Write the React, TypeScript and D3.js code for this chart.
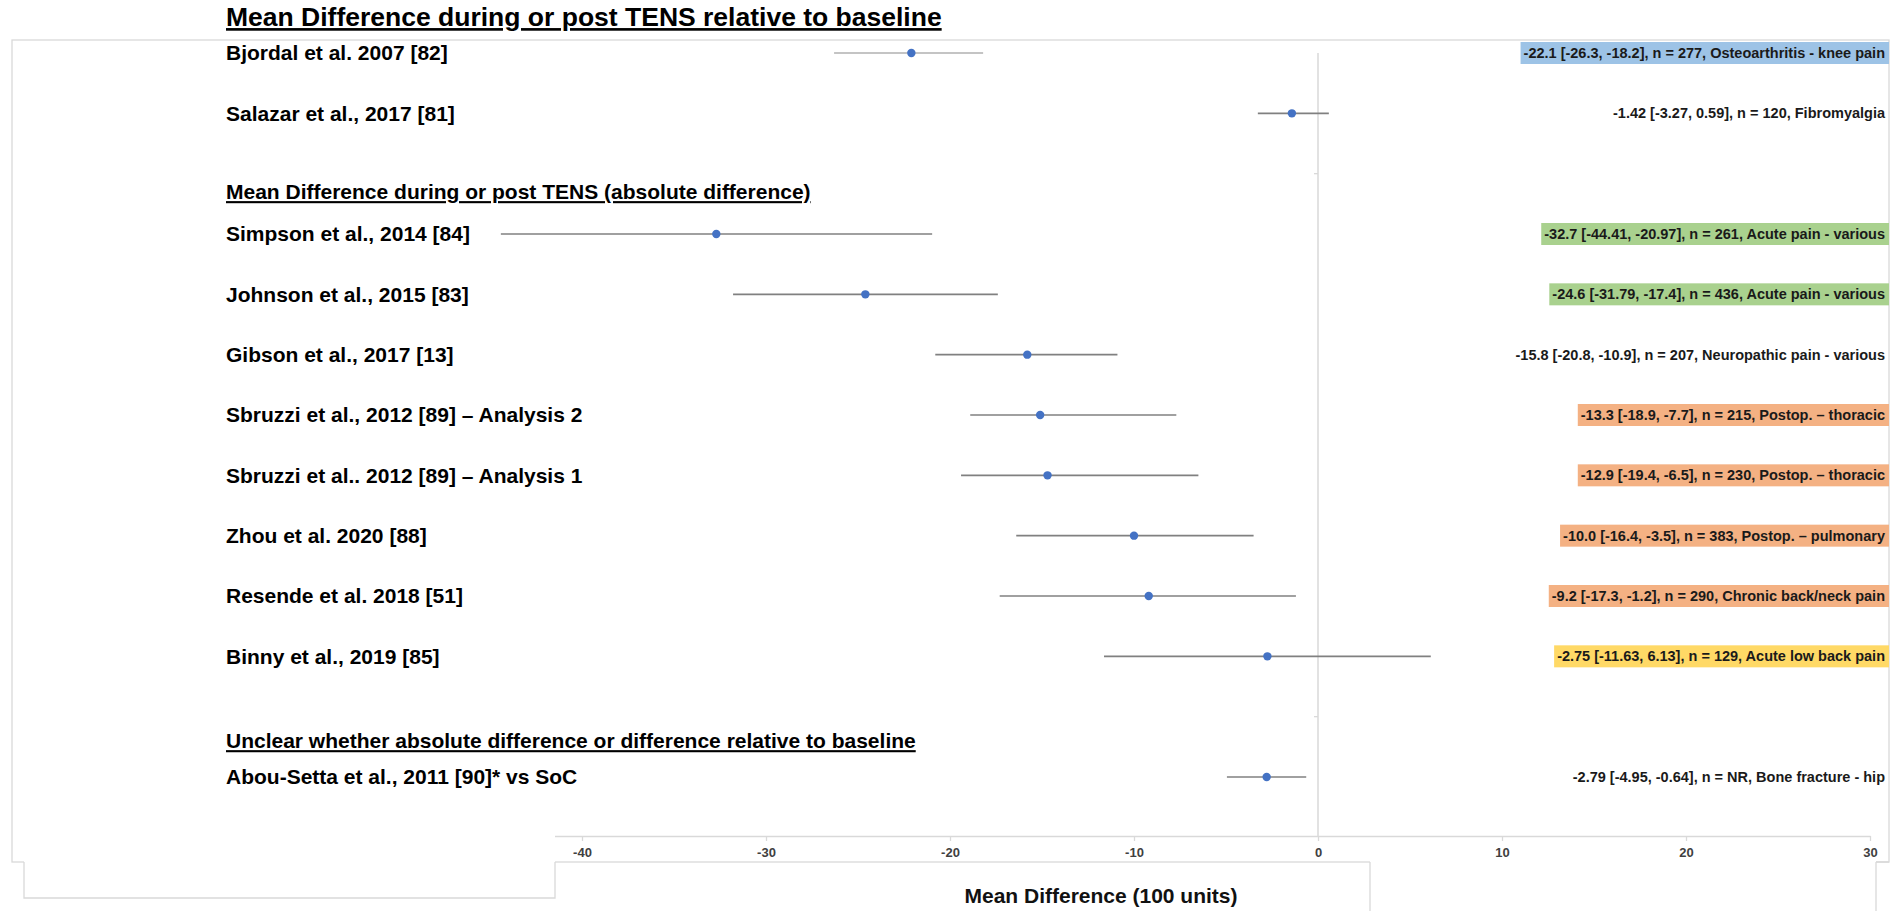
import React, { useEffect, useRef } from "react";
import * as d3 from "d3";

// ---------- data ----------
const studyLabels = [
  "Bjordal et al. 2007 [82]",
  "Salazar et al., 2017 [81]",
  "Simpson et al., 2014 [84]",
  "Johnson et al., 2015 [83]",
  "Gibson et al., 2017 [13]",
  "Sbruzzi et al., 2012 [89] – Analysis 2",
  "Sbruzzi et al.. 2012  [89] – Analysis 1",
  "Zhou et al. 2020 [88]",
  "Resende et al. 2018 [51]",
  "Binny et al., 2019 [85]",
  "Abou-Setta et al., 2011 [90]* vs SoC",
];
const studyRows = [0, 1, 3, 4, 5, 6, 7, 8, 9, 10, 12];
const meanDiff = [-22.1, -1.42, -32.7, -24.6, -15.8, -15.1, -14.7, -10.0, -9.2, -2.75, -2.79];
const ciLower = [-26.3, -3.27, -44.41, -31.79, -20.8, -18.9, -19.4, -16.4, -17.3, -11.63, -4.95];
const ciUpper = [-18.2, 0.59, -20.97, -17.4, -10.9, -7.7, -6.5, -3.5, -1.2, 6.13, -0.64];
const summaryText = [
  "-22.1 [-26.3, -18.2], n = 277, Osteoarthritis  - knee pain",
  "-1.42 [-3.27, 0.59], n = 120, Fibromyalgia",
  "-32.7 [-44.41, -20.97], n = 261, Acute pain - various",
  "-24.6 [-31.79, -17.4], n = 436, Acute pain - various",
  "-15.8 [-20.8, -10.9], n = 207, Neuropathic pain - various",
  "-13.3 [-18.9, -7.7], n = 215, Postop. – thoracic",
  "-12.9 [-19.4, -6.5], n = 230, Postop. – thoracic",
  "-10.0 [-16.4, -3.5], n = 383, Postop. – pulmonary",
  "-9.2 [-17.3, -1.2], n = 290, Chronic back/neck pain",
  "-2.75 [-11.63, 6.13], n = 129, Acute low back pain",
  "-2.79 [-4.95, -0.64], n = NR, Bone fracture - hip",
];
const painGroup = ["knee", "none", "acute", "acute", "none", "postop", "postop", "postop", "postop", "lowback", "none"];
const sectionHeaders = [
  "Mean Difference during or post TENS relative to baseline",
  "Mean Difference during or post TENS (absolute difference)",
  "Unclear whether absolute difference or difference relative to baseline",
];
const sectionRows = [-0.6, 2.3, 11.4];
const xTicks = [-50, -40, -30, -20, -10, 0, 10, 20, 30];
const categoryTickRows = [2, 11];
const xAxisTitle = "Mean Difference (100 units)";

// ---------- styles ----------
const groupColor: Record<string, string> = {
  knee: "#9dc3e6",
  acute: "#a9d18e",
  postop: "#f4b183",
  lowback: "#ffd966",
};
const FONT = "'Liberation Sans', Arial, sans-serif";
const GRID = "#d9d9d9";

export default function App() {
  const ref = useRef<SVGSVGElement>(null);

  useEffect(() => {
    const svg = d3.select(ref.current);
    svg.selectAll("*").remove();

    const x = d3.scaleLinear().domain([-50, 30]).range([398, 1870]);
    const y = d3.scaleLinear().domain([0, 12]).range([53, 777]);
    const axisY = 836;
    const frame = { left: 12, top: 40, right: 1889, bottom: 862 };

    svg.append("rect").attr("width", 1897).attr("height", 911).attr("fill", "#fff");

    // chart frame
    svg
      .append("rect")
      .attr("x", frame.left)
      .attr("y", frame.top)
      .attr("width", frame.right - frame.left)
      .attr("height", frame.bottom - frame.top)
      .attr("fill", "none")
      .attr("stroke", GRID)
      .attr("stroke-width", 1.3);

    // zero line
    svg
      .append("line")
      .attr("x1", x(0))
      .attr("x2", x(0))
      .attr("y1", y(0))
      .attr("y2", axisY)
      .attr("stroke", GRID)
      .attr("stroke-width", 1.5);
    svg
      .selectAll("line.ctick")
      .data(categoryTickRows)
      .enter()
      .append("line")
      .attr("class", "ctick")
      .attr("x1", x(0) - 4)
      .attr("x2", x(0))
      .attr("y1", (d) => y(d))
      .attr("y2", (d) => y(d))
      .attr("stroke", GRID)
      .attr("stroke-width", 1.3);

    // x axis
    const ax = svg
      .append("g")
      .attr("transform", `translate(0,${axisY})`)
      .call(
        d3
          .axisBottom(x)
          .tickValues(xTicks)
          .tickSize(5)
          .tickSizeOuter(0)
          .tickPadding(7)
          .tickFormat((d) => String(d))
      );
    ax.select(".domain").attr("stroke", GRID).attr("stroke-width", 1.5);
    ax.selectAll(".tick line").attr("stroke", GRID).attr("stroke-width", 1.3);
    ax.selectAll(".tick text")
      .attr("fill", "#404040")
      .style("font-family", FONT)
      .style("font-size", "13px")
      .style("font-weight", "bold");

    // left text cover box (bottom-left)
    svg.append("rect").attr("x", 24).attr("y", 820).attr("width", 531).attr("height", 78).attr("fill", "#fff");
    svg
      .append("path")
      .attr("d", `M24,${frame.bottom} V898 H555 V${frame.bottom}`)
      .attr("fill", "none")
      .attr("stroke", GRID)
      .attr("stroke-width", 1.3);
    // bottom-right cover box
    svg.append("rect").attr("x", 1370).attr("y", frame.bottom - 1).attr("width", 506).attr("height", 60).attr("fill", "#fff");
    svg
      .append("path")
      .attr("d", `M1370,${frame.bottom} V911 M1876,${frame.bottom} V911 M1876,${frame.bottom} H${frame.right}`)
      .attr("fill", "none")
      .attr("stroke", GRID)
      .attr("stroke-width", 1.3);

    // axis title
    svg
      .append("text")
      .attr("x", 1101)
      .attr("y", 896)
      .attr("dy", "0.35em")
      .attr("text-anchor", "middle")
      .style("font-family", FONT)
      .style("font-size", "21px")
      .style("font-weight", "bold")
      .attr("fill", "#111")
      .text(xAxisTitle);

    // section headers
    svg
      .selectAll("text.hdr")
      .data(sectionHeaders)
      .enter()
      .append("text")
      .attr("class", "hdr")
      .attr("x", 226)
      .attr("y", (_, i) => y(sectionRows[i]))
      .attr("dy", "0.35em")
      .style("font-family", FONT)
      .style("font-size", (_, i) => (i === 0 ? "26.5px" : "21px"))
      .style("font-weight", "bold")
      .style("text-decoration", "underline")
      .attr("fill", "#000")
      .text((d) => d);

    const idx = d3.range(studyLabels.length);

    // study labels
    svg
      .selectAll("text.lbl")
      .data(idx)
      .enter()
      .append("text")
      .attr("class", "lbl")
      .attr("x", 226)
      .attr("y", (i) => y(studyRows[i]))
      .attr("dy", "0.35em")
      .style("font-family", FONT)
      .style("font-size", "21px")
      .style("font-weight", "bold")
      .attr("fill", "#000")
      .text((i) => studyLabels[i]);

    // CI lines
    svg
      .selectAll("line.ci")
      .data(idx)
      .enter()
      .append("line")
      .attr("class", "ci")
      .attr("x1", (i) => x(ciLower[i]))
      .attr("x2", (i) => x(ciUpper[i]))
      .attr("y1", (i) => y(studyRows[i]))
      .attr("y2", (i) => y(studyRows[i]))
      .attr("stroke", (i) => (i === 0 ? "#b0b0b0" : "#808080"))
      .attr("stroke-width", 1.6);

    // points
    svg
      .selectAll("circle.pt")
      .data(idx)
      .enter()
      .append("circle")
      .attr("class", "pt")
      .attr("cx", (i) => x(meanDiff[i]))
      .attr("cy", (i) => y(studyRows[i]))
      .attr("r", 4.2)
      .attr("fill", "#4472c4");

    // summary labels with highlight boxes
    const sg = svg.append("g");
    idx.forEach((i) => {
      const cy = y(studyRows[i]);
      const g = sg.append("g");
      const t = g
        .append("text")
        .attr("x", 1885)
        .attr("y", cy)
        .attr("dy", "0.35em")
        .attr("text-anchor", "end")
        .style("font-family", FONT)
        .style("font-size", "14.5px")
        .style("font-weight", "bold")
        .attr("fill", "#1a1a1a")
        .text(summaryText[i]);
      const col = groupColor[painGroup[i]];
      if (col) {
        const bb = (t.node() as SVGTextElement).getBBox();
        g.insert("rect", "text")
          .attr("x", bb.x - 3)
          .attr("y", cy - 11)
          .attr("width", frame.right - (bb.x - 3))
          .attr("height", 22)
          .attr("fill", col);
      }
    });
  }, []);

  return (
    <svg
      ref={ref}
      width={1897}
      height={911}
      style={{ position: "fixed", left: 0, top: 0, display: "block" }}
    />
  );
}
